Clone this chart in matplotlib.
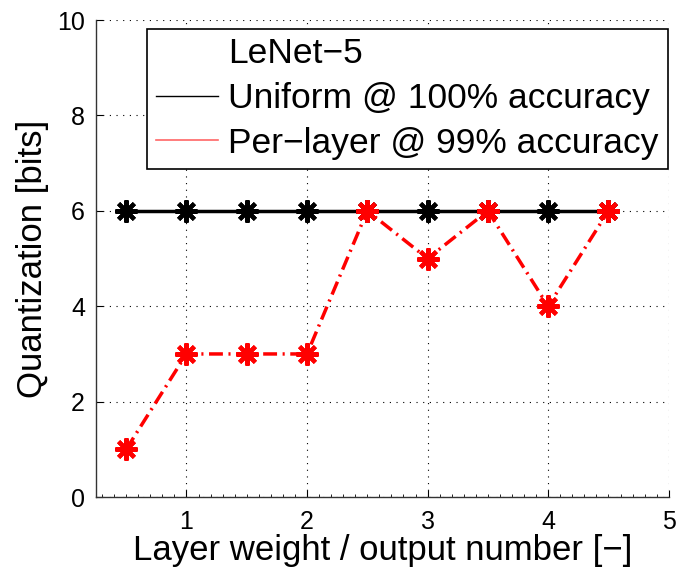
import matplotlib
matplotlib.use("Agg")
import matplotlib.pyplot as plt
from matplotlib.lines import Line2D
from matplotlib.ticker import MultipleLocator

plt.rcParams['font.family'] = ['Liberation Sans', 'DejaVu Sans']

# layer weight / output number
layer = [0.5, 1.0, 1.5, 2.0, 2.5, 3.0, 3.5, 4.0, 4.5]
uniform_bits = [6, 6, 6, 6, 6, 6, 6, 6, 6]
perlayer_bits = [1, 3, 3, 3, 6, 5, 6, 4, 6]

xticks = [1, 2, 3, 4, 5]
yticks = [0, 2, 4, 6, 8, 10]

fig = plt.figure(figsize=(6.81, 5.72), dpi=100)
ax = fig.add_axes([0.141, 0.131, 0.841, 0.834])

star = (8, 2, 0)
ax.plot(layer, uniform_bits, color='black', lw=2.5, marker=star,
        markersize=16, markeredgewidth=3, zorder=3)
ax.plot(layer, perlayer_bits, color='red', lw=2.5, ls='-.',
        dashes=(4, 1.6, 0.6, 1.6), marker=star, markersize=16,
        markeredgewidth=3, zorder=4)

ax.set_xlim(0.25, 5)
ax.set_ylim(0, 10)
ax.set_xticks(xticks)
ax.set_yticks(yticks)
ax.xaxis.set_minor_locator(MultipleLocator(0.1))
ax.tick_params(axis='both', which='major', direction='in', length=5,
               labelsize=18)
ax.tick_params(axis='x', which='major', pad=9)
ax.tick_params(axis='y', which='major', pad=8)
ax.tick_params(axis='x', which='minor', direction='in', length=2.5)
ax.grid(True, which='major', color='black', ls=(0, (1, 5)), lw=0.8)

for side in ['top', 'right']:
    ax.spines[side].set_visible(False)
for side in ['left', 'bottom']:
    ax.spines[side].set_linewidth(1.0)
    ax.spines[side].set_color('#333333')

ax.set_xlabel('Layer weight / output number [\u2212]', fontsize=25, labelpad=0)
ax.set_ylabel('Quantization [bits]', fontsize=25, labelpad=6)

handles = [
    Line2D([], [], color='none'),
    Line2D([], [], color='black', lw=1),
    Line2D([], [], color='#ff6666', lw=1.2),
]
labels = ['LeNet\u22125', 'Uniform @ 100% accuracy', 'Per\u2212layer @ 99% accuracy']
leg = ax.legend(handles, labels, loc='upper right', bbox_to_anchor=(0.998, 0.982),
                fontsize=25.5, frameon=True, fancybox=False, framealpha=1,
                edgecolor='black', borderpad=0.25, labelspacing=0.33,
                handlelength=1.75, handletextpad=0.3, borderaxespad=0)
leg.get_frame().set_linewidth(1.2)

fig.savefig('out.png', dpi=100)
